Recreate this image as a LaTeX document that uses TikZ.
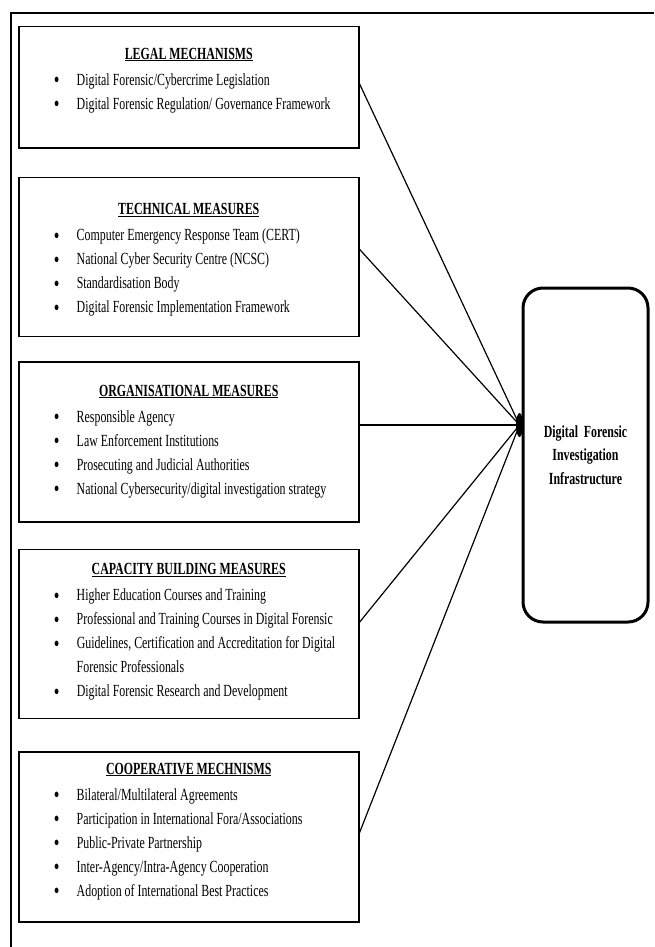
\documentclass[tikz,border=0pt]{standalone}
\usepackage{fontspec}
\setmainfont{Liberation Serif}[FakeStretch=0.7]
\usepackage{tikz}
\usetikzlibrary{
  positioning,
  calc
}
\tikzset{
  catbox/.style={
    draw, line width=1.5pt, inner sep=0pt,
    font=\fontsize{17}{24}\selectfont
  },
  infrabox/.style={
    draw, line width=3pt, rounded corners=20pt, minimum width=125pt,
    minimum height=334pt, text width=112pt, align=center,
    font=\fontsize{17}{23.5}\selectfont\bfseries
  },
  link/.style={line width=1.2pt},
  frameline/.style={line width=2.4pt}
}
\newcommand{\dfpanel}[3]{\parbox[c][#1pt][t]{340pt}{\raggedright\vspace*{#2pt}#3}}
\newcommand{\dfhead}[1]{\centerline{\underline{\textbf{#1}}}\vspace{2pt}}
\newcommand{\dfitem}[1]{\par\noindent\hangindent=58pt\hangafter=1\hspace*{35pt}\makebox[23pt][l]{\raisebox{-2.8pt}{\fontsize{23}{24}\selectfont\textbullet}}#1\par}

\begin{document}
\begin{tikzpicture}[x=1pt, y=-1pt]
  \useasboundingbox[fill=white] (0,0) rectangle (654,947);
  \draw[frameline] (654,13) -| (11,947);

  \node[catbox, anchor=north west] (legal) at (18,26) {\dfpanel{121}{21}{%
    \dfhead{LEGAL MECHANISMS}
    \dfitem{Digital Forensic/Cybercrime Legislation}
    \dfitem{Digital Forensic Regulation/ Governance Framework}}};
  \node[catbox, below=28pt of legal] (tech) {\dfpanel{159}{26}{%
    \dfhead{TECHNICAL MEASURES}
    \dfitem{Computer Emergency Response Team (CERT)}
    \dfitem{National Cyber Security Centre (NCSC)}
    \dfitem{Standardisation Body}
    \dfitem{Digital Forensic Implementation Framework}}};
  \node[catbox, below=24pt of tech] (org) {\dfpanel{160}{23}{%
    \dfhead{ORGANISATIONAL MEASURES}
    \dfitem{Responsible Agency}
    \dfitem{Law Enforcement Institutions}
    \dfitem{Prosecuting and Judicial Authorities}
    \dfitem{National Cybersecurity/digital investigation strategy}}};
  \node[catbox, below=26pt of org] (cap) {\dfpanel{169}{14}{%
    \dfhead{CAPACITY BUILDING MEASURES}
    \dfitem{Higher Education Courses and Training}
    \dfitem{Professional and Training Courses in Digital Forensic}
    \dfitem{Guidelines, Certification and Accreditation for Digital\newline Forensic Professionals}
    \dfitem{Digital Forensic Research and Development}}};
  \node[catbox, below=32pt of cap] (coop) {\dfpanel{170}{11}{%
    \dfhead{COOPERATIVE MECHNISMS}
    \dfitem{Bilateral/Multilateral Agreements}
    \dfitem{Participation in International Fora/Associations}
    \dfitem{Public-Private Partnership}
    \dfitem{Inter-Agency/Intra-Agency Cooperation}
    \dfitem{Adoption of International Best Practices}}};

  \node[infrabox] (infra) at (585.5,455) {Digital Forensic Investigation Infrastructure};

  % all links meet at one point on the left side of the target
  \coordinate (hub) at ([xshift=-2pt, yshift=30pt]infra.west);
  \foreach \panel/\up in {legal/3.5, tech/7.5, cap/11.5, coop/4}
    \draw[link] ([yshift=\up pt]\panel.east) -- (hub);
  \draw[link] (hub -| org.east) -- (hub);
  \fill (hub) ellipse [x radius=3.5pt, y radius=12pt];
\end{tikzpicture}
\end{document}
